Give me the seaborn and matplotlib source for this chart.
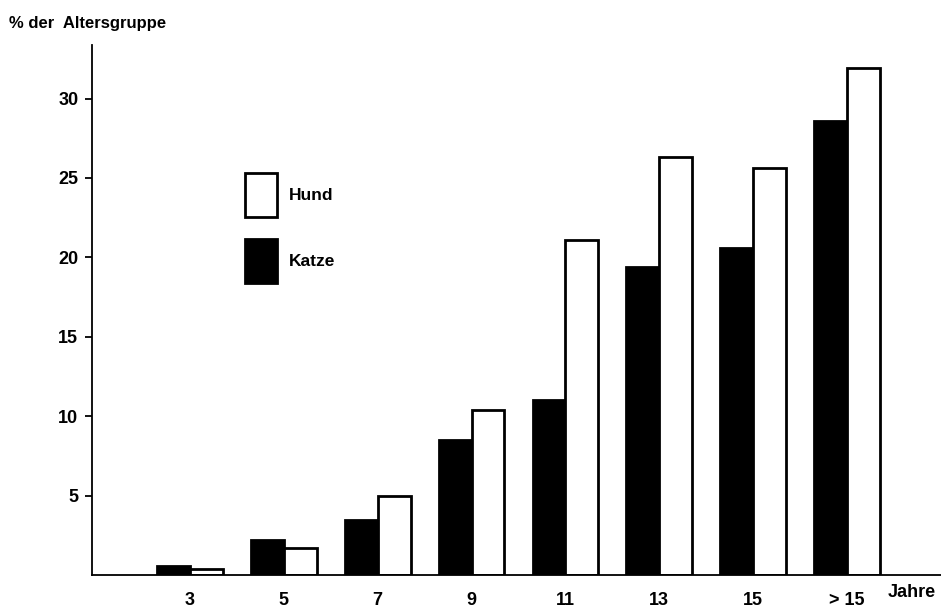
import matplotlib.pyplot as plt
import seaborn as sns
import pandas as pd
from matplotlib.patches import Patch

# Werte (% der Altersgruppe)
altersgruppen = ['3', '5', '7', '9', '11', '13', '15', '> 15']
katze = [0.6, 2.2, 3.5, 8.5, 11.0, 19.4, 20.6, 28.6]
hund = [0.4, 1.7, 5.0, 10.4, 21.1, 26.3, 25.6, 31.9]
y_ticks = [5, 10, 15, 20, 25, 30]

df = pd.DataFrame({
    'Alter': altersgruppen * 2,
    'Prozent': katze + hund,
    'Tier': ['Katze'] * len(katze) + ['Hund'] * len(hund),
})

sns.set_style('white')
plt.rcParams['font.family'] = ['Liberation Sans', 'DejaVu Sans']
plt.rcParams['font.weight'] = 'bold'
plt.rcParams['text.color'] = 'black'
plt.rcParams['xtick.color'] = 'black'
plt.rcParams['ytick.color'] = 'black'

fig = plt.figure(figsize=(9.41, 6.1), dpi=100)
ax = fig.add_axes([0.098, 0.057, 0.902, 0.87])

sns.barplot(data=df, x='Alter', y='Prozent', hue='Tier', order=altersgruppen,
            hue_order=['Katze', 'Hund'], palette={'Katze': 'black', 'Hund': 'white'},
            edgecolor='black', linewidth=2, width=0.7, ax=ax, legend=False)

ax.set_xlim(-1.04, 8.0)
ax.set_ylim(0, 33.4)
ax.set_yticks(y_ticks)
ax.set_xlabel('')
ax.set_ylabel('')
for s in ['top', 'right']:
    ax.spines[s].set_visible(False)
for s in ['left', 'bottom']:
    ax.spines[s].set_linewidth(1.3)
    ax.spines[s].set_color('black')
ax.tick_params(axis='y', left=True, direction='out', length=5, width=1.3,
               labelsize=13, pad=5, labelcolor='black')
ax.tick_params(axis='x', bottom=False, length=0, labelsize=13, pad=12, labelcolor='black')
for lbl in ax.get_xticklabels() + ax.get_yticklabels():
    lbl.set_fontweight('bold')

fig.text(0.01, 0.962, '% der  Altersgruppe', fontsize=12, fontweight='bold', va='center')
fig.text(0.943, 0.028, 'Jahre', fontsize=13, fontweight='bold', va='center')

handles = [Patch(facecolor='white', edgecolor='black', linewidth=2, label='Hund'),
           Patch(facecolor='black', edgecolor='black', linewidth=2, label='Katze')]
ax.legend(handles=handles, loc='upper left', bbox_to_anchor=(0.251, 0.731),
          bbox_transform=fig.transFigure, frameon=False, handlelength=1.85,
          handleheight=3.5, labelspacing=1.3, handletextpad=0.7, borderpad=0,
          prop={'weight': 'bold', 'size': 12.5})

fig.savefig('out.png', dpi=100)
